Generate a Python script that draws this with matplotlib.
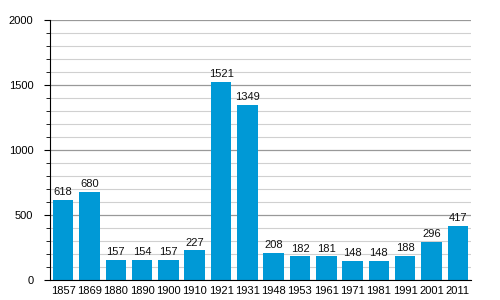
import matplotlib
matplotlib.use('Agg')
import matplotlib.pyplot as plt
import numpy as np

years = ['1857', '1869', '1880', '1890', '1900', '1910', '1921', '1931',
         '1948', '1953', '1961', '1971', '1981', '1991', '2001', '2011']
values = [618, 680, 157, 154, 157, 227, 1521, 1349,
          208, 182, 181, 148, 148, 188, 296, 417]

plt.rcParams['font.family'] = ['Liberation Sans', 'DejaVu Sans']
plt.rcParams['font.size'] = 8

fig = plt.figure(figsize=(5, 3), dpi=100)
ax = fig.add_axes([0.1, 0.0667, 0.842, 0.8667])

x = np.arange(len(years))
bars = ax.bar(x, values, width=0.78, color='#0099d6', zorder=3)

for xi, v in zip(x, values):
    ax.annotate(str(v), (xi, v), xytext=(0, 2), textcoords='offset points',
                ha='center', va='bottom', fontsize=8, color='#111111', zorder=4)

ax.set_xlim(-0.5, len(years) - 0.5)
ax.set_ylim(0, 2000)
ax.set_xticks(x)
ax.set_xticklabels(years)
ax.set_yticks(np.arange(0, 2001, 500))
ax.set_yticks(np.arange(0, 2001, 100), minor=True)

ax.grid(axis='y', which='minor', color='#d0d0d0', linewidth=0.8, zorder=0)
ax.grid(axis='y', which='major', color='#999999', linewidth=0.9, zorder=1)

for s in ['top', 'right']:
    ax.spines[s].set_visible(False)
ax.spines['left'].set_color('black')
ax.spines['bottom'].set_color('black')
ax.spines['left'].set_zorder(5)
ax.spines['bottom'].set_zorder(5)

ax.tick_params(axis='x', length=0, pad=4)
ax.tick_params(axis='y', which='major', length=4, pad=8)
ax.tick_params(axis='y', which='minor', length=3)

fig.savefig('out.png', dpi=100)
